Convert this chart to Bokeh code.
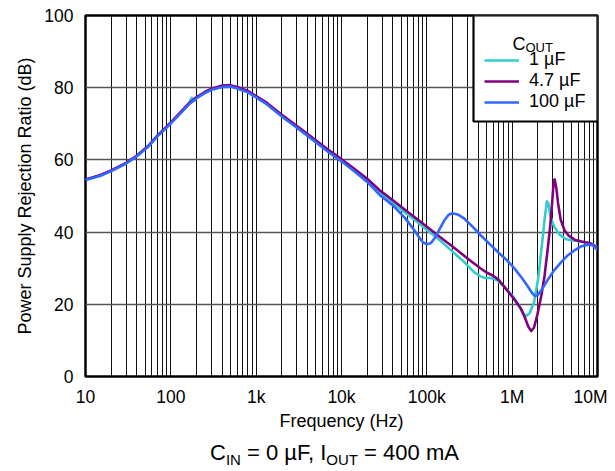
import math
from bokeh.plotting import figure
from bokeh.layouts import column
from bokeh.models import (Range1d, FixedTicker, Legend, LegendItem, Label,
                          CustomJSTickFormatter, Div, BoxAnnotation)
from bokeh.embed import file_html
from bokeh.resources import INLINE

# ---------------- data ----------------
x_tick_values = [10, 100, 1000, 10000, 100000, 1000000, 10000000]
x_tick_labels = ["10", "100", "1k", "10k", "100k", "1M", "10M"]
y_tick_values = [0, 20, 40, 60, 80, 100]

series_names = ["1 µF", "4.7 µF", "100 µF"]
series_colors = ["#33CCCC", "#800080", "#3366FF"]

f_1uF = [10, 15, 20, 30, 40, 55, 70, 100, 130, 160, 175, 190, 200, 250, 300,
         400, 500, 600, 800, 1000, 1300, 1600, 2000, 3200, 5000, 7000, 10000,
         14000, 20000, 28000, 40000, 56000, 80000, 100000, 140000, 200000,
         280000, 355000, 420000, 480000, 560000, 660000, 800000, 1000000,
         1200000, 1350000, 1450000, 1600000, 1800000, 2000000, 2200000,
         2400000, 2550000, 2650000, 2800000, 3100000, 3600000, 4300000,
         5500000, 7000000, 8500000, 10000000]
psrr_1uF = [54.5, 55.7, 57.0, 59.1, 61.1, 63.9, 66.7, 70.2, 73.0, 75.3, 77.2,
            76.4, 77.1, 78.6, 79.5, 80.3, 80.4, 79.9, 78.8, 77.4, 75.7, 74.0,
            72.1, 68.5, 65.0, 62.4, 59.8, 57.2, 54.3, 50.9, 48.1, 45.4, 42.5,
            40.6, 37.9, 34.6, 31.5, 29.0, 27.8, 27.3, 27.3, 26.7, 25.0, 22.5,
            19.8, 17.6, 16.7, 17.5, 20.5, 26.5, 35.0, 43.5, 48.5, 48.0, 44.5,
            41.5, 39.3, 38.0, 37.6, 37.2, 36.8, 35.8]

f_4u7F = [10, 15, 20, 30, 40, 55, 70, 100, 130, 160, 200, 250, 300, 400, 500,
          600, 800, 1000, 1300, 1600, 2000, 3200, 5000, 7000, 10000, 14000,
          20000, 28000, 40000, 56000, 80000, 100000, 140000, 200000, 300000,
          424000, 500000, 600000, 700000, 870000, 1050000, 1250000, 1400000,
          1550000, 1670000, 1800000, 1970000, 2200000, 2400000, 2600000,
          2800000, 2950000, 3050000, 3150000, 3300000, 3450000, 3700000,
          4100000, 4600000, 5500000, 6500000, 8000000, 9000000, 10000000]
psrr_4u7F = [54.6, 55.8, 57.1, 59.2, 61.2, 64.0, 66.8, 70.4, 73.2, 75.5, 77.4,
             78.8, 79.7, 80.6, 80.7, 80.2, 79.1, 77.7, 76.0, 74.3, 72.5, 68.9,
             65.4, 62.8, 60.2, 57.6, 54.8, 51.6, 48.8, 46.1, 43.3, 41.5, 38.8,
             36.0, 32.7, 30.0, 28.8, 27.9, 26.7, 23.9, 21.5, 19.0, 16.5, 13.8,
             12.6, 13.5, 17.0, 22.5, 28.0, 35.0, 42.0, 48.5, 53.5, 54.6, 52.0,
             48.0, 43.5, 40.5, 39.0, 37.8, 37.4, 37.0, 36.3, 35.6]

f_100uF = [10, 15, 20, 30, 40, 55, 70, 100, 130, 160, 200, 250, 300, 400,
           500, 600, 800, 1000, 1300, 1600, 2000, 3200, 5000, 7000, 10000,
           14000, 20000, 28000, 40000, 56000, 70000, 80000, 90000, 100000,
           112000, 125000, 140000, 160000, 180000, 200000, 230000, 270000,
           350000, 424000, 550000, 700000, 870000, 1050000, 1300000, 1500000,
           1700000, 1850000, 2000000, 2300000, 2700000, 3100000, 3800000,
           4500000, 5500000, 6500000, 8000000, 9000000, 10000000]
psrr_100uF = [54.4, 55.6, 56.9, 59.0, 61.0, 63.8, 66.6, 70.1, 72.9, 75.2,
              77.1, 78.5, 79.4, 80.2, 80.3, 79.8, 78.7, 77.3, 75.6, 73.9,
              72.0, 68.4, 64.9, 62.2, 59.6, 56.9, 53.9, 50.3, 47.4, 43.8, 40.8,
              38.8, 37.2, 36.6, 37.0, 38.5, 40.7, 43.2, 44.8, 45.2, 44.9, 43.9,
              41.3, 39.2, 36.6, 34.2, 32.2, 30.1, 27.3, 25.2, 23.2, 22.3, 22.6,
              24.6, 27.3, 29.4, 31.8, 33.6, 35.1, 36.1, 36.6, 36.2, 35.0]

FONT = "Liberation Sans"
W = 607
FRAME_W, FRAME_H = 512, 361
X_MIN, X_MAX, Y_MIN, Y_MAX = 10, 1e7, 0, 100

# ---------------- main figure ----------------
p = figure(width=W, height=434, x_axis_type="log",
           x_range=Range1d(X_MIN, X_MAX), y_range=Range1d(Y_MIN, Y_MAX),
           output_backend="svg", toolbar_location=None,
           min_border_left=85, min_border_right=W - 85 - FRAME_W,
           min_border_top=15, min_border_bottom=434 - 15 - FRAME_H)

p.outline_line_color = "black"
p.outline_line_width = 2.5
p.outline_line_alpha = 1.0
p.background_fill_color = "white"
p.border_fill_color = "white"

# grids
grid_ticks = [m * d for d in x_tick_values[:-1] for m in range(1, 10)] + [x_tick_values[-1]]
p.xgrid.ticker = FixedTicker(ticks=grid_ticks)
p.xgrid.grid_line_color = "#111111"
p.xgrid.grid_line_width = 1
p.ygrid.ticker = FixedTicker(ticks=y_tick_values[1:-1])
p.ygrid.grid_line_color = "#555555"
p.ygrid.grid_line_width = 1.6

# axes
p.xaxis.ticker = FixedTicker(ticks=x_tick_values)
p.xaxis.formatter = CustomJSTickFormatter(
    args=dict(labels=x_tick_labels),
    code="return labels[Math.round(Math.log10(tick)) - 1];")
p.yaxis.ticker = FixedTicker(ticks=y_tick_values)
for ax in (p.xaxis, p.yaxis):
    ax.axis_line_color = None
    ax.major_tick_line_color = None
    ax.minor_tick_line_color = None
    ax.major_label_text_font = FONT
    ax.major_label_text_font_size = "17.5px"
    ax.major_label_text_color = "black"
    ax.axis_label_text_font = FONT
    ax.axis_label_text_font_style = "normal"
    ax.axis_label_text_color = "black"
    ax.axis_label_text_font_size = "18px"

p.xaxis.axis_label = "Frequency (Hz)"
p.xaxis.major_label_standoff = 4
p.xaxis.axis_label_standoff = 1
p.yaxis.axis_label = "Power Supply Rejection Ratio (dB)"
p.yaxis.major_label_standoff = 6
p.yaxis.axis_label_standoff = 6

# curves
data = [(f_1uF, psrr_1uF), (f_4u7F, psrr_4u7F), (f_100uF, psrr_100uF)]
renderers = []
for (fx, fy), col in zip(data, series_colors):
    r = p.line(fx, fy, line_color=col, line_width=2.6, line_join="round")
    renderers.append(r)

# legend box (white panel with black border, top-right corner of the frame)
LEG_W_PX, LEG_H_PX = 124, 106
def px_to_x(px):
    lo, hi = math.log10(X_MIN), math.log10(X_MAX)
    return 10 ** (lo + (hi - lo) * px / FRAME_W)
def px_to_y(px):
    return Y_MIN + (Y_MAX - Y_MIN) * px / FRAME_H
p.add_layout(BoxAnnotation(left=px_to_x(FRAME_W - LEG_W_PX), right=X_MAX,
                           bottom=px_to_y(FRAME_H - LEG_H_PX), top=Y_MAX,
                           fill_color="white", fill_alpha=1.0,
                           line_color="black", line_width=2.2, line_alpha=1.0))

legend = Legend(
    items=[LegendItem(label=n, renderers=[r]) for n, r in zip(series_names, renderers)],
    location=(FRAME_W - LEG_W_PX + 11, 264), margin=0,
    padding=11, glyph_width=35, glyph_height=20, label_height=20,
    label_standoff=10, spacing=0,
    label_text_font=FONT, label_text_font_size="18px", label_text_color="black",
    border_line_color=None, background_fill_alpha=0.0)
p.add_layout(legend)

# legend title C_OUT
p.add_layout(Label(x=X_MIN, y=Y_MAX, x_offset=427, y_offset=-28, text="C",
                   text_font=FONT, text_font_size="18px", text_color="black",
                   text_baseline="alphabetic"))
p.add_layout(Label(x=X_MIN, y=Y_MAX, x_offset=440, y_offset=-32, text="OUT",
                   text_font=FONT, text_font_size="13px", text_color="black",
                   text_baseline="alphabetic"))

# ---------------- caption ----------------
sub = "font-size:15px;vertical-align:-5px;line-height:0;"
caption_html = (
    f'<div style="font-family:\'Liberation Sans\',Arial,sans-serif;'
    f'font-size:22px;line-height:22px;color:black;white-space:nowrap;'
    f'padding-top:8px;padding-left:210px;">'
    f'C<sub style="{sub}">IN</sub> = 0 µF, I<sub style="{sub}">OUT</sub> = 400 mA'
    f'</div>')
cap = Div(text=caption_html, width=W, height=36, margin=0)

layout = column(p, cap, spacing=0)
open("out.html", "w").write(file_html(layout, INLINE))
